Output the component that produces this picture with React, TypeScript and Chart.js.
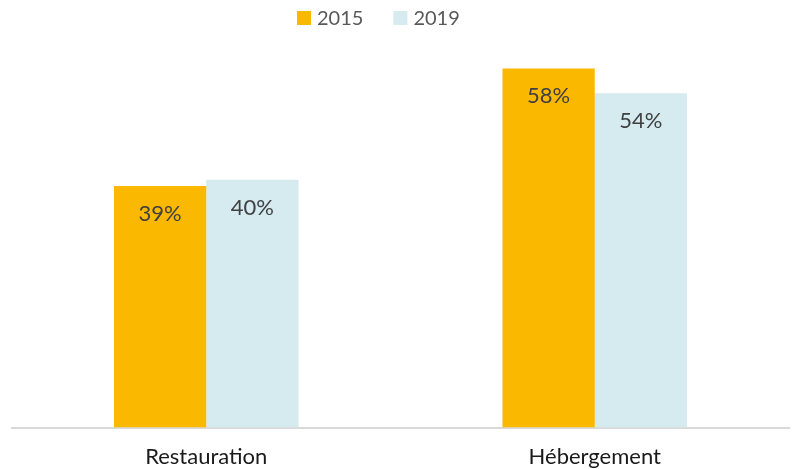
import React, { useEffect, useRef } from "react";
import { Chart, registerables } from "chart.js";

Chart.register(...registerables);

const categories = ["Restauration", "Hébergement"];
const seriesNames = ["2015", "2019"];
const values2015 = [39, 58];
const values2019 = [40, 54];
const colors = ["#FBB800", "#D5EBF0"];

const FONT = "Lato, 'Open Sans', sans-serif";

const labelPlugin = {
  id: "barLabels",
  afterDatasetsDraw(chart: any) {
    const ctx = chart.ctx;
    ctx.save();
    ctx.font = `22px ${FONT}`;
    ctx.fillStyle = "#404040";
    ctx.textAlign = "center";
    ctx.textBaseline = "middle";
    chart.data.datasets.forEach((ds: any, i: number) => {
      const meta = chart.getDatasetMeta(i);
      meta.data.forEach((bar: any, j: number) => {
        ctx.fillText(`${ds.data[j]}%`, bar.x, bar.y + 28);
      });
    });
    ctx.restore();
  },
};

const legendPlugin = {
  id: "customLegend",
  afterDraw(chart: any) {
    const ctx = chart.ctx;
    ctx.save();
    ctx.font = `20px ${FONT}`;
    ctx.textBaseline = "middle";
    ctx.textAlign = "left";
    let x = 297;
    const cy = 18;
    chart.data.datasets.forEach((ds: any) => {
      ctx.fillStyle = ds.backgroundColor;
      ctx.fillRect(x, cy - 7, 14, 14);
      x += 14 + 6;
      ctx.fillStyle = "#595959";
      ctx.fillText(ds.label, x, cy + 1);
      x += ctx.measureText(ds.label).width + 30;
    });
    ctx.restore();
  },
};

export default function App() {
  const ref = useRef<HTMLCanvasElement>(null);
  useEffect(() => {
    document.body.style.margin = "0";
    const chart = new Chart(ref.current!, {
      type: "bar",
      data: {
        labels: categories,
        datasets: [
          { label: seriesNames[0], data: values2015, backgroundColor: colors[0] },
          { label: seriesNames[1], data: values2019, backgroundColor: colors[1] },
        ],
      },
      options: {
        animation: false,
        responsive: false,
        maintainAspectRatio: false,
        layout: { padding: { left: 12, right: 4, top: 56, bottom: -17 } },
        datasets: { bar: { categoryPercentage: 0.475, barPercentage: 1.0 } },
        plugins: {
          legend: { display: false },
          tooltip: { enabled: false },
        },
        scales: {
          x: {
            grid: { display: false, drawTicks: false },
            border: { display: true, color: "#D9D9D9", width: 2 },
            ticks: { color: "#1a1a1a", font: { size: 22, family: FONT }, padding: 16 },
          },
          y: {
            display: false,
            min: 0,
            max: 60,
          },
        },
      },
      plugins: [labelPlugin, legendPlugin],
    });
    return () => chart.destroy();
  }, []);
  return (
    <div style={{ width: 793, height: 469 }}>
      <canvas ref={ref} width={793} height={469} />
    </div>
  );
}
